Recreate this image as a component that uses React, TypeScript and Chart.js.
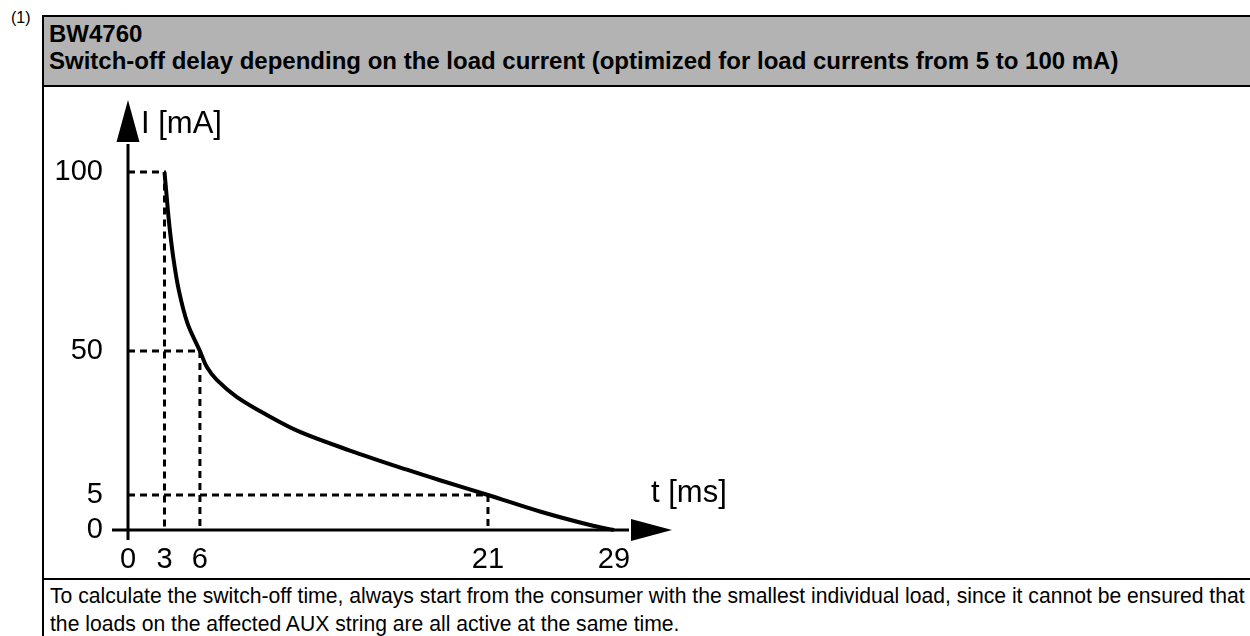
import React, { useEffect, useRef } from "react";
import { Chart, registerables, LinearScale } from "chart.js";

Chart.register(...registerables);

// ---- data ----
const xTicks = [0, 3, 6, 21, 29];
const yTicks = [0, 5, 50, 100];
const curveT = [3, 3.135, 3.39, 3.735, 4.21, 4.94, 6, 6.36, 6.89, 7.93, 9.49, 11.21, 13.81, 16.78, 18.5, 21, 24.3, 27.48, 29];
const curveI = [100, 95, 85.75, 76.3, 67, 57.8, 50, 45, 40.9, 35.6, 30, 24.7, 18.9, 12.9, 9.6, 5, 2.64, 0.71, 0];
const guideT = [3, 6, 21];
const guideI = [100, 50, 5];
const xTitle = "t [ms]";
const yTitle = "I [mA]";
const headerLines = [
  "BW4760",
  "Switch-off delay depending on the load current (optimized for load currents from 5 to 100 mA)",
];
const footerLines = [
  "To calculate the switch-off time, always start from the consumer with the smallest individual load, since it cannot be ensured that",
  "the loads on the affected AUX string are all active at the same time.",
];

// schematic (non-linear) axis: value -> fraction of axis length
const xStops: [number, number][] = [[0, 0], [3, 0.0751], [6, 0.148], [21, 0.7407], [29, 1]];
const yStops: [number, number][] = [[0, 0], [5, 0.0978], [50, 0.5], [100, 1]];

const FONT = '"Liberation Sans", Arial, Helvetica, sans-serif';

function interp(stops: [number, number][], v: number, from: number, to: number) {
  for (let i = 1; i < stops.length; i++) {
    const a = stops[i - 1];
    const b = stops[i];
    if (v <= b[from] || i === stops.length - 1) {
      const t = (v - a[from]) / (b[from] - a[from]);
      return a[to] + t * (b[to] - a[to]);
    }
  }
  return 0;
}

class PiecewiseScale extends LinearScale {
  static id = "piecewise";
  static defaults = LinearScale.defaults;
  getPixelForValue(value: number) {
    const stops = (this.options as any).stops as [number, number][];
    return this.getPixelForDecimal(interp(stops, value, 0, 1));
  }
  getValueForPixel(pixel: number) {
    const stops = (this.options as any).stops as [number, number][];
    return interp(stops, this.getDecimalForPixel(pixel), 1, 0);
  }
}
Chart.register(PiecewiseScale as any);

const arrowAxes = {
  id: "arrowAxes",
  afterDatasetsDraw(chart: any) {
    const { ctx } = chart;
    const xs = chart.scales.x;
    const ys = chart.scales.y;
    const x0 = xs.getPixelForValue(0);
    const y0 = ys.getPixelForValue(0);
    const yTop = ys.getPixelForValue(100);
    const xRight = xs.getPixelForValue(29);
    ctx.save();
    ctx.strokeStyle = "#000";
    ctx.fillStyle = "#000";
    ctx.lineWidth = 3;
    // y axis
    const yTip = yTop - 72;
    const yBase = yTip + 42;
    ctx.beginPath();
    ctx.moveTo(x0, y0 + 10);
    ctx.lineTo(x0, yBase + 2);
    ctx.stroke();
    ctx.beginPath();
    ctx.moveTo(x0, yTip);
    ctx.lineTo(x0 - 11.5, yBase);
    ctx.lineTo(x0 + 11.5, yBase);
    ctx.closePath();
    ctx.fill();
    // x axis
    const xTip = xRight + 58;
    const xBase = xTip - 41;
    ctx.beginPath();
    ctx.moveTo(x0 - 16, y0);
    ctx.lineTo(xBase - 2, y0);
    ctx.stroke();
    ctx.beginPath();
    ctx.moveTo(xTip, y0);
    ctx.lineTo(xBase, y0 - 11);
    ctx.lineTo(xBase, y0 + 11);
    ctx.closePath();
    ctx.fill();
    // titles
    ctx.font = `31px ${FONT}`;
    ctx.textAlign = "left";
    ctx.textBaseline = "alphabetic";
    ctx.fillText(yTitle, x0 + 13, yTop - 39);
    ctx.fillText(xTitle, xRight + 37, y0 - 28);
    ctx.restore();
  },
};

export default function App() {
  const ref = useRef<HTMLCanvasElement>(null);
  useEffect(() => {
    Chart.defaults.font.family = FONT;
    const guides = guideT.map((t, i) => ({
      data: [
        { x: 0, y: guideI[i] },
        { x: t, y: guideI[i] },
        { x: t, y: 0 },
      ],
      borderColor: "#000",
      borderWidth: 3,
      borderDash: [7, 5],
      pointRadius: 0,
      tension: 0,
      fill: false,
      clip: false as any,
    }));
    const chart = new Chart(ref.current!, {
      type: "line",
      data: {
        datasets: [
          {
            data: curveT.map((t, i) => ({ x: t, y: curveI[i] })),
            borderColor: "#000",
            borderWidth: 4,
            pointRadius: 0,
            tension: 0.35,
            fill: false,
            clip: false as any,
          },
          ...guides,
        ] as any,
      },
      options: {
        animation: false,
        responsive: true,
        maintainAspectRatio: false,
        layout: { padding: { left: 0, right: 636, top: 84, bottom: 0 } },
        plugins: { legend: { display: false }, tooltip: { enabled: false } },
        events: [],
        scales: {
          x: {
            type: "piecewise" as any,
            min: 0,
            max: 29,
            stops: xStops,
            grid: { display: false, drawTicks: false },
            border: { display: false },
            ticks: {
              autoSkip: false,
              maxRotation: 0,
              padding: 13,
              color: "#000",
              font: { size: 29, family: FONT },
              callback: (v: any) => String(v),
            },
            afterBuildTicks: (s: any) => {
              s.ticks = xTicks.map((value) => ({ value }));
            },
            afterFit: (s: any) => {
              s.height = 48;
            },
          } as any,
          y: {
            type: "piecewise" as any,
            min: 0,
            max: 100,
            stops: yStops,
            grid: { display: false, drawTicks: false },
            border: { display: false },
            ticks: {
              autoSkip: false,
              padding: 25,
              color: "#000",
              font: { size: 29, family: FONT },
              callback: (v: any) => String(v),
            },
            afterBuildTicks: (s: any) => {
              s.ticks = yTicks.map((value) => ({ value }));
            },
            afterFit: (s: any) => {
              s.width = 84;
            },
          } as any,
        },
      },
      plugins: [arrowAxes],
    });
    return () => chart.destroy();
  }, []);

  const abs: React.CSSProperties = { position: "absolute", boxSizing: "border-box" };
  return (
    <div
      style={{
        position: "absolute",
        left: 0,
        top: 0,
        width: 1250,
        height: 636,
        overflow: "hidden",
        background: "#fff",
        color: "#000",
        fontFamily: FONT,
      }}
    >
      <div style={{ ...abs, left: 11, top: 9, fontSize: 16, lineHeight: "18px" }}>(1)</div>
      <div
        style={{
          ...abs,
          left: 42,
          top: 15,
          width: 1300,
          height: 72,
          borderTop: "2px solid #000",
          borderLeft: "2px solid #000",
          borderBottom: "2px solid #000",
          background: "#b3b3b3",
          padding: "4px 0 0 5px",
          fontWeight: "bold",
          fontSize: 24,
          lineHeight: "26.7px",
          whiteSpace: "nowrap",
        }}
      >
        {headerLines.map((l) => (
          <div key={l}>{l}</div>
        ))}
      </div>
      <div style={{ ...abs, left: 42, top: 87, width: 2, height: 492, background: "#000" }} />
      <div style={{ ...abs, left: 44, top: 88, width: 1206, height: 490 }}>
        <canvas ref={ref} />
      </div>
      <div
        style={{
          ...abs,
          left: 42,
          top: 578,
          width: 1300,
          height: 100,
          borderTop: "2px solid #000",
          borderLeft: "2px solid #000",
          padding: "2px 0 0 6px",
          fontSize: 21.15,
          lineHeight: "28.3px",
          whiteSpace: "nowrap",
        }}
      >
        {footerLines.map((l) => (
          <div key={l}>{l}</div>
        ))}
      </div>
    </div>
  );
}
